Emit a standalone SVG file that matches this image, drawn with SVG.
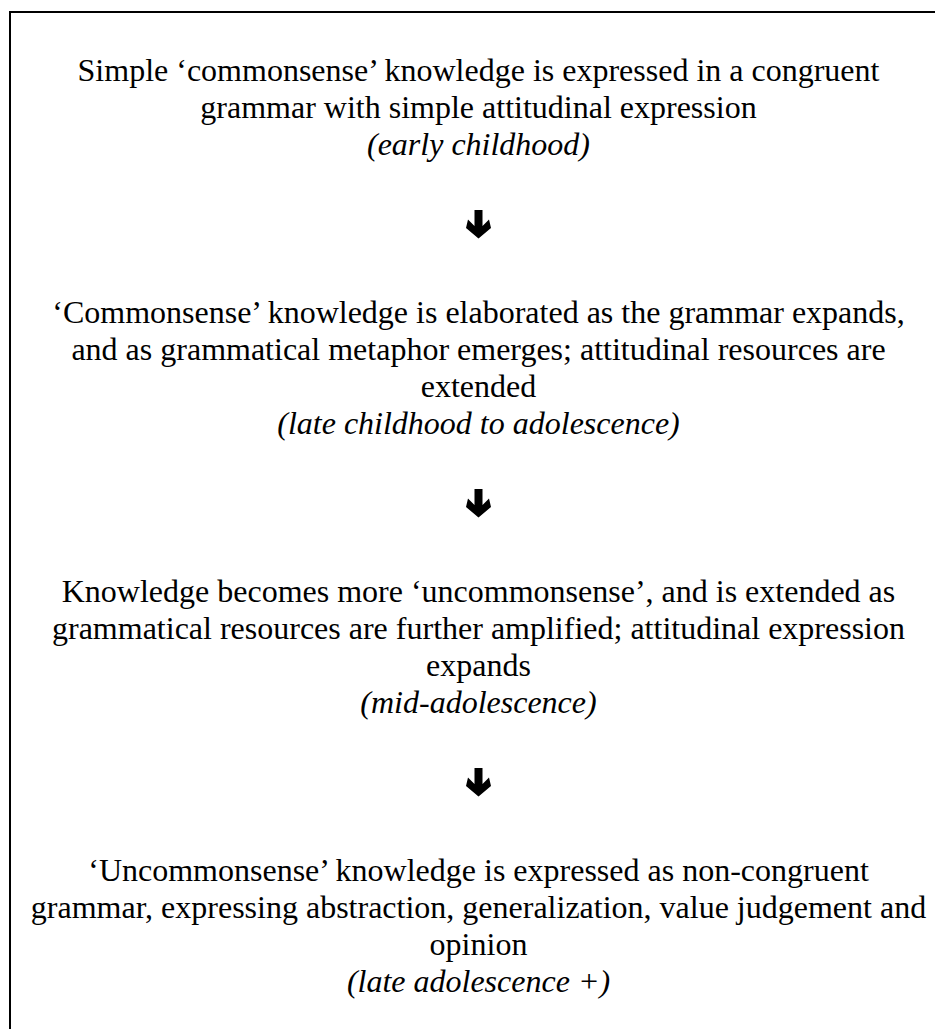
<svg xmlns="http://www.w3.org/2000/svg" width="935" height="1029" viewBox="0 0 935 1029">
  <style>
    .t { font-family: "Liberation Serif", "Times New Roman", serif; font-size: 32px; fill: #000; text-anchor: middle; }
    .i { font-style: italic; }
    .frame { fill: none; stroke: #000; stroke-width: 2; }
    .arrow { fill: #000; stroke: none; }
  </style>
  <defs>
    <!-- bold down arrow, drawn centred on x=0 with its top at y=0 -->
    <path id="downArrow" d="M-4 0 H4 V16 L10.5 9.5 L12.5 18 L0 28.5 L-12.5 18 L-10.5 9.5 L-4 16 Z"/>
  </defs>

  <rect class="frame" x="10" y="12" width="940" height="1030"/>

  <g id="stage-early-childhood">
    <text class="t" x="478.5" y="81">Simple ‘commonsense’ knowledge is expressed in a congruent</text>
    <text class="t" x="478.5" y="118">grammar with simple attitudinal expression</text>
    <text class="t i" x="478.5" y="155">(early childhood)</text>
  </g>

  <g id="stage-late-childhood">
    <text class="t" x="478.5" y="323">‘Commonsense’ knowledge is elaborated as the grammar expands,</text>
    <text class="t" x="478.5" y="360">and as grammatical metaphor emerges; attitudinal resources are</text>
    <text class="t" x="478.5" y="397">extended</text>
    <text class="t i" x="478.5" y="434">(late childhood to adolescence)</text>
  </g>

  <g id="stage-mid-adolescence">
    <text class="t" x="478.5" y="602">Knowledge becomes more ‘uncommonsense’, and is extended as</text>
    <text class="t" x="478.5" y="639">grammatical resources are further amplified; attitudinal expression</text>
    <text class="t" x="478.5" y="676">expands</text>
    <text class="t i" x="478.5" y="713">(mid-adolescence)</text>
  </g>

  <g id="stage-late-adolescence">
    <text class="t" x="478.5" y="881">‘Uncommonsense’ knowledge is expressed as non-congruent</text>
    <text class="t" x="478.5" y="918">grammar, expressing abstraction, generalization, value judgement and</text>
    <text class="t" x="478.5" y="955">opinion</text>
    <text class="t i" x="478.5" y="992">(late adolescence +)</text>
  </g>

  <g id="connectors" class="arrow">
    <use href="#downArrow" x="478.5" y="210"/>
    <use href="#downArrow" x="478.5" y="489"/>
    <use href="#downArrow" x="478.5" y="768"/>
  </g>
</svg>
